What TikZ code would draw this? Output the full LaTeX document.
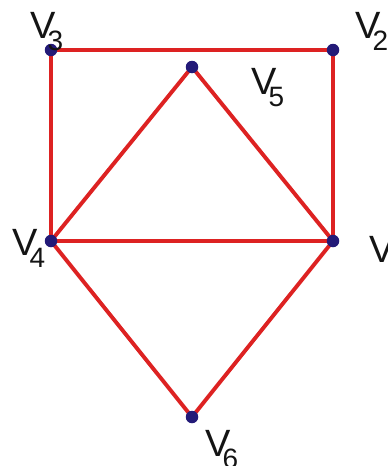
\documentclass[tikz,border=0pt]{standalone}
\usepackage{fontspec}
\setmainfont{Liberation Sans}
\definecolor{edgered}{HTML}{DD2222}
\definecolor{dotblue}{HTML}{231A78}
\newcommand{\vlab}[1]{\fontsize{38}{38}\selectfont V\kern-8pt\raisebox{-12pt}{\fontsize{28}{28}\selectfont #1}}
\begin{document}
\begin{tikzpicture}[x=1pt,y=-1pt,
  vert/.style={circle,fill=dotblue,inner sep=0pt,minimum size=12.5pt},
  edge/.style={draw=edgered,line width=3.9pt},
  lab/.style={anchor=base west,inner sep=0pt,text=black!92}]
\useasboundingbox (0,0) rectangle (388,466);
\coordinate (v3) at (51,50);
\coordinate (v2) at (333,50);
\coordinate (v5) at (192,67);
\coordinate (v4) at (51,241);
\coordinate (v1) at (333,241);
\coordinate (v6) at (192,417);
\draw[edge] (v3) -- (v2);
\draw[edge] (v3) -- (v4);
\draw[edge] (v2) -- (v1);
\draw[edge] (v4) -- (v1);
\draw[edge] (v4) -- (v5);
\draw[edge] (v5) -- (v1);
\draw[edge] (v4) -- (v6);
\draw[edge] (v1) -- (v6);
\node[vert] (d3) at (v3) {};
\node[vert] (d2) at (v2) {};
\node[vert] (d5) at (v5) {};
\node[vert] (d4) at (v4) {};
\node[vert] (d1) at (v1) {};
\node[vert] (d6) at (v6) {};
\node[lab] (l3) at (30,38) {\vlab{3}};
\node[lab] (l2) at (355,38) {\vlab{2}};
\node[lab] (l5) at (251,94) {\vlab{5}};
\node[lab] (l4) at (12,255) {\vlab{4}};
\node[lab] (l1) at (369,262) {\vlab{1}};
\node[lab] (l6) at (205,456) {\vlab{6}};
\end{tikzpicture}
\end{document}
